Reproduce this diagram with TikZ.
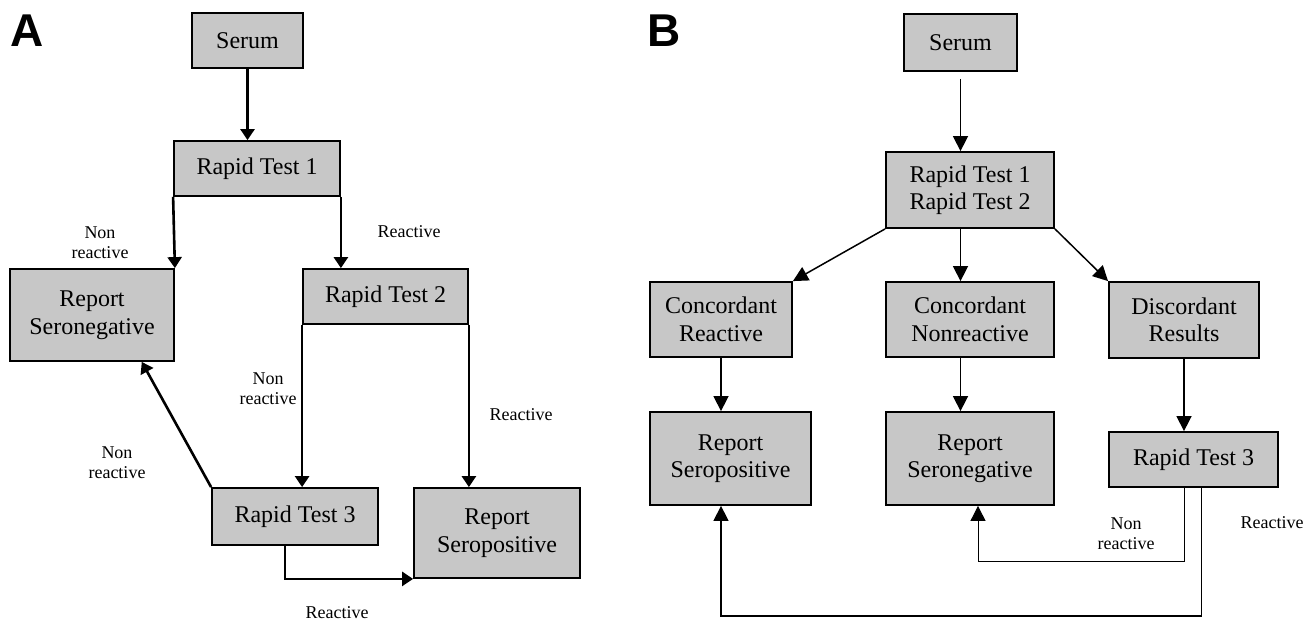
\documentclass[tikz,border=0pt]{standalone}
\usepackage{fontspec}
\setmainfont{Liberation Serif}
\newfontfamily\panelfont{Liberation Sans}
\usetikzlibrary{positioning,calc,arrows.meta}

\begin{document}
\begin{tikzpicture}[x=1pt,y=-1pt,
	box/.style={draw, fill=black!22, line width=1.8pt, align=center, inner sep=0pt, font=\fontsize{24}{27.5}\selectfont},
	lab/.style={align=center, inner sep=0pt, font=\fontsize{18}{20}\selectfont},
	panel/.style={inner sep=0pt, font=\panelfont\bfseries\fontsize{46}{46}\selectfont},
	arrA/.style={line width=2.6pt, -{Triangle[length=11pt,width=14pt]}},
	arrB/.style={line width=1.5pt, -{Triangle[length=15pt,width=15pt]}}]
	
	\useasboundingbox (0,0) rectangle (1306,624);
	
	% panel A
	\node[panel] (labA) at (27,31) {A};
	\node[box, minimum width=111, minimum height=55] (serumA) at (247.5,40.5) {Serum};
	\node[box, minimum width=166, minimum height=55] (rtoneA) at (257,168.5) {Rapid Test 1};
	\node[box, minimum width=164, minimum height=92] (negA) at (92,315) {Report\\Seronegative};
	\node[box, minimum width=165, minimum height=55] (rttwoA) at (385.5,296.5) {Rapid Test 2};
	\node[box, minimum width=166, minimum height=57] (rtthreeA) at (295,516.5) {Rapid Test 3};
	\node[box, minimum width=166, minimum height=90] (posA) at (497,533) {Report\\Seropositive};
	
	\draw[arrA] (serumA.south) -- (serumA.south |- rtoneA.north);
	\draw[arrA] (rtoneA.south west) -- (negA.north east);
	\draw[arrA] (rtoneA.south east) -- (rtoneA.south east |- rttwoA.north);
	\draw[arrA] (rttwoA.south west) -- (rttwoA.south west |- rtthreeA.north);
	\draw[arrA] (rttwoA.south east) -- (rttwoA.south east |- posA.north);
	\draw[arrA] (rtthreeA.north west) -- ($(negA.south east)!0.2!(negA.south west)$);
	\draw[arrA] ($(rtthreeA.south)+(-10,0)$) |- (posA.south west);
	
	\node[lab] (nrA1) at (100,243) {Non\\reactive};
	\node[lab] (rA1) at (409,232) {Reactive};
	\node[lab] (nrA2) at (268,389) {Non\\reactive};
	\node[lab] (rA2) at (521,415) {Reactive};
	\node[lab] (nrA3) at (117,463) {Non\\reactive};
	\node[lab] (rA3) at (337,613) {Reactive};
	
	% panel B
	\node[panel] (labB) at (664,31) {B};
	\node[box, minimum width=113, minimum height=57] (serumB) at (960.5,42.5) {Serum};
	\node[box, minimum width=168, minimum height=76] (rtoneB) at (970,190) {Rapid Test 1\\Rapid Test 2};
	\node[box, minimum width=142, minimum height=75] (concR) at (721,319.5) {Concordant\\Reactive};
	\node[box, minimum width=168, minimum height=75] (concN) at (970,319.5) {Concordant\\Nonreactive};
	\node[box, minimum width=150, minimum height=76] (disc) at (1184,320) {Discordant\\Results};
	\node[box, minimum width=161, minimum height=93] (posB) at (730.5,458.5) {Report\\Seropositive};
	\node[box, minimum width=168, minimum height=93] (negB) at (970,458.5) {Report\\Seronegative};
	\node[box, minimum width=169, minimum height=55] (rtthreeB) at (1193.5,459.5) {Rapid Test 3};
	
	\draw[arrB, shorten <=7pt] (serumB.south) -- (serumB.south |- rtoneB.north);
	\draw[arrB] (rtoneB.south west) -- (concR.north east);
	\draw[arrB] (serumB.south |- rtoneB.south) -- (serumB.south |- concN.north);
	\draw[arrB] (rtoneB.south east) -- (disc.north west);
	\draw[arrB] (concR.south) -- (concR.south |- posB.north);
	\draw[arrB] (serumB.south |- concN.south) -- (serumB.south |- negB.north);
	\draw[arrB] (disc.south) -- (disc.south |- rtthreeB.north);
	\draw[arrB, line width=0.9pt] (disc.south |- rtthreeB.south) -- ++(0,74) -| ($(negB.south)+(8,0)$);
	\draw[arrB] ($(rtthreeB.south)+(8,0)$) -- ++(0,128) -| (concR.south |- posB.south);
	
	\node[lab] (nrB) at (1126,534) {Non\\reactive};
	\node[lab] (rB) at (1272,523) {Reactive};
\end{tikzpicture}
\end{document}
